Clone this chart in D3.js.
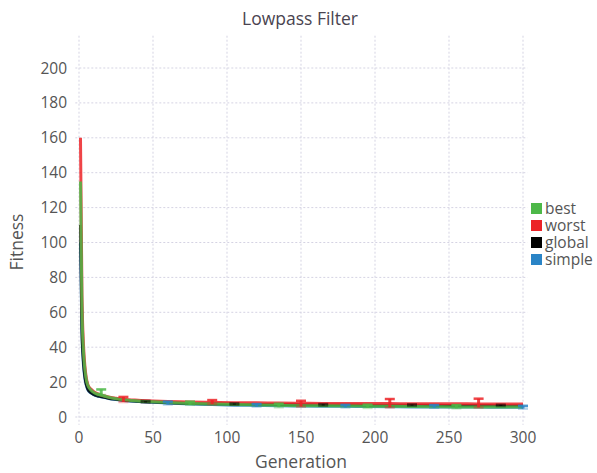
<!DOCTYPE html>
<html>
<head>
<meta charset="utf-8">
<script src="https://cdn.jsdelivr.net/npm/d3@7"></script>
<style>
  body { margin: 0; background: #fff; }
  text { font-family: "Open Sans", "Noto Sans", sans-serif; }
</style>
</head>
<body>
<svg width="597" height="473"></svg>
<script>
const generations = [1, 2, 3, 4, 5, 6, 8, 10, 12, 15, 20, 25, 30, 40, 50, 60, 75, 90, 105, 120, 135, 150, 165, 180, 195, 210, 225, 240, 255, 270, 285, 300];

const best = [135, 62, 38, 27, 21, 18, 15.5, 14, 13.2, 12.5, 11.3, 10.5, 9.9, 9.2, 8.7, 8.3, 7.8, 7.4, 7.1, 6.9, 6.7, 6.5, 6.4, 6.3, 6.2, 6.1, 6.0, 5.9, 5.8, 5.8, 5.7, 5.7];
const worst = [160, 70, 42, 29, 22, 18.5, 16, 14.5, 13.5, 12.6, 11.5, 10.8, 10.2, 9.6, 9.2, 8.9, 8.6, 8.4, 8.2, 8.1, 8.0, 7.9, 7.8, 7.8, 7.7, 7.7, 7.6, 7.6, 7.6, 7.5, 7.5, 7.5];
const global = [110, 50, 32, 23, 18.5, 16, 14, 13, 12.3, 11.7, 10.8, 10.2, 9.7, 9.0, 8.6, 8.2, 7.8, 7.6, 7.4, 7.2, 7.1, 7.0, 6.9, 6.9, 6.8, 6.8, 6.7, 6.7, 6.6, 6.6, 6.5, 6.5];
const simple = [100, 48, 30, 22, 18, 15.5, 13.8, 12.8, 12.1, 11.5, 10.6, 10.0, 9.5, 8.9, 8.4, 8.0, 7.5, 7.1, 6.8, 6.6, 6.4, 6.3, 6.2, 6.1, 6.0, 5.9, 5.8, 5.8, 5.7, 5.7, 5.6, 5.6];

// error bars: generation, low, high
const bestErrGen = [15, 75, 135, 195, 255];
const bestErrLow = [12.6, 7.0, 5.6, 5.2, 5.0];
const bestErrHigh = [15.8, 8.8, 7.6, 7.0, 6.8];
const worstErrGen = [30, 90, 150, 210, 270];
const worstErrLow = [8.6, 7.4, 6.0, 5.5, 5.5];
const worstErrHigh = [11.5, 9.7, 9.3, 10.3, 10.5];
const globalErrGen = [45, 105, 165, 225, 285];
const globalErrLow = [8.2, 7.0, 6.5, 6.4, 6.3];
const globalErrHigh = [9.2, 7.8, 7.4, 7.2, 7.0];
const simpleErrGen = [60, 120, 180, 240, 300];
const simpleErrLow = [7.2, 6.0, 5.5, 5.3, 4.8];
const simpleErrHigh = [8.8, 7.4, 6.9, 6.8, 6.4];

const seriesNames = ["best", "worst", "global", "simple"];
const xTicks = [0, 50, 100, 150, 200, 250, 300];
const yTicks = [0, 20, 40, 60, 80, 100, 120, 140, 160, 180, 200];

const colors = d3.scaleOrdinal()
  .domain(seriesNames)
  .range(["#4db848", "#ec2327", "#000000", "#2a84c6"]);

const svg = d3.select("svg");

const x = d3.scaleLinear().domain([0, 300]).range([79, 523]);
const y = d3.scaleLinear().domain([0, 200]).range([417, 68]);

// grid
const grid = svg.append("g").attr("stroke", "#d5d3e3").attr("stroke-dasharray", "2,2");
grid.selectAll("line.v")
  .data(xTicks)
  .enter()
  .append("line")
  .attr("x1", (d) => x(d)).attr("x2", (d) => x(d))
  .attr("y1", y(218.5)).attr("y2", y(-4.5));
grid.selectAll("line.h")
  .data(yTicks)
  .enter()
  .append("line")
  .attr("x1", x(-2.5)).attr("x2", x(303))
  .attr("y1", (d) => y(d)).attr("y2", (d) => y(d));

// tick labels
svg.append("g")
  .selectAll("text")
  .data(yTicks)
  .enter()
  .append("text")
  .attr("x", 67)
  .attr("y", (d) => y(d) + 5.5)
  .attr("text-anchor", "end")
  .attr("font-size", 15.5)
  .attr("fill", "#555")
  .text((d) => d);

svg.append("g")
  .selectAll("text")
  .data(xTicks)
  .enter()
  .append("text")
  .attr("x", (d) => x(d))
  .attr("y", 443)
  .attr("text-anchor", "middle")
  .attr("font-size", 15.5)
  .attr("fill", "#555")
  .text((d) => d);

// titles
svg.append("text")
  .attr("x", 300).attr("y", 25)
  .attr("text-anchor", "middle")
  .attr("font-size", 17.5)
  .attr("fill", "#4a4450")
  .text("Lowpass Filter");

svg.append("text")
  .attr("x", 301).attr("y", 468)
  .attr("text-anchor", "middle")
  .attr("font-size", 17.5)
  .attr("fill", "#555")
  .text("Generation");

svg.append("text")
  .attr("transform", "translate(23,242) rotate(-90)")
  .attr("text-anchor", "middle")
  .attr("font-size", 17.5)
  .attr("fill", "#555")
  .text("Fitness");

// lines
const lineData = { best, worst, global, simple };
const line = d3.line()
  .x((d, i) => x(generations[i]))
  .y((d) => y(d))
  .curve(d3.curveMonotoneX);

const drawOrder = ["simple", "global", "worst", "best"];
drawOrder.forEach((name) => {
  svg.append("path")
    .datum(lineData[name])
    .attr("fill", "none")
    .attr("stroke", colors(name))
    .attr("stroke-width", 3)
    .attr("stroke-opacity", 0.85)
    .attr("d", line);
});

// error bars
const errData = {
  best: [bestErrGen, bestErrLow, bestErrHigh],
  worst: [worstErrGen, worstErrLow, worstErrHigh],
  global: [globalErrGen, globalErrLow, globalErrHigh],
  simple: [simpleErrGen, simpleErrLow, simpleErrHigh],
};
drawOrder.forEach((name) => {
  const [g, lo, hi] = errData[name];
  const bars = svg.append("g")
    .attr("stroke", colors(name))
    .attr("stroke-opacity", name === "global" ? 0.5 : 0.85)
    .selectAll("g")
    .data(g)
    .enter()
    .append("g");
  bars.append("line")
    .attr("x1", (d) => x(d)).attr("x2", (d) => x(d))
    .attr("y1", (d, i) => y(lo[i])).attr("y2", (d, i) => y(hi[i]))
    .attr("stroke-width", 3);
  bars.append("line")
    .attr("x1", (d) => x(d) - 5).attr("x2", (d) => x(d) + 5)
    .attr("y1", (d, i) => y(hi[i])).attr("y2", (d, i) => y(hi[i]))
    .attr("stroke-width", 2.5);
  bars.append("line")
    .attr("x1", (d) => x(d) - 5).attr("x2", (d) => x(d) + 5)
    .attr("y1", (d, i) => y(lo[i])).attr("y2", (d, i) => y(lo[i]))
    .attr("stroke-width", 2.5)
    .attr("stroke-opacity", 0.35);
});

// legend
const legend = svg.append("g")
  .selectAll("g")
  .data(seriesNames)
  .enter()
  .append("g")
  .attr("transform", (d, i) => "translate(531," + (203 + i * 17) + ")");
legend.append("rect")
  .attr("width", 11).attr("height", 11)
  .attr("fill", (d) => colors(d));
legend.append("text")
  .attr("x", 14).attr("y", 11)
  .attr("font-size", 15.5)
  .attr("fill", "#555")
  .text((d) => d);
</script>
</body>
</html>
